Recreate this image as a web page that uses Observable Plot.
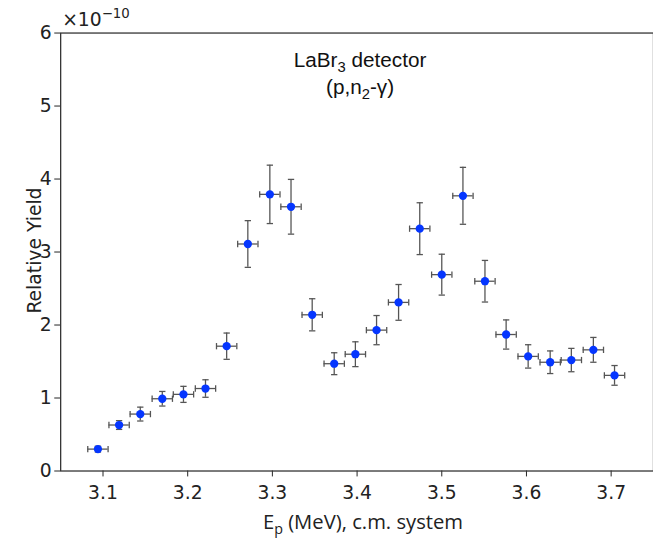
<!DOCTYPE html>
<html><head><meta charset="utf-8">
<script src="https://cdn.jsdelivr.net/npm/d3@7"></script>
<script src="https://cdn.jsdelivr.net/npm/@observablehq/plot@0.6"></script>
<style>
body{margin:0;background:#fff}
#wrap{width:653px;height:547px;overflow:hidden;position:relative}
</style>
</head><body><div id="wrap"></div>
<script>
// Beam energy (MeV, c.m. system)
const energy = [3.094,3.119,3.144,3.170,3.195,3.221,3.246,3.271,3.297,3.322,3.347,3.373,3.398,3.423,3.449,3.474,3.500,3.525,3.551,3.576,3.602,3.628,3.653,3.679,3.704];
// Relative yield in units of 1e-10
const yieldVals = [0.30,0.63,0.78,0.99,1.05,1.13,1.71,3.11,3.79,3.62,2.14,1.47,1.60,1.93,2.31,3.32,2.69,3.77,2.60,1.87,1.57,1.49,1.52,1.66,1.31];
const yieldErr = [0.04,0.06,0.095,0.10,0.11,0.12,0.18,0.32,0.40,0.375,0.22,0.15,0.17,0.20,0.245,0.355,0.28,0.39,0.285,0.20,0.16,0.155,0.16,0.17,0.135];
const energyErr = [0.012,0.012,0.012,0.012,0.012,0.012,0.012,0.012,0.012,0.012,0.012,0.012,0.012,0.012,0.012,0.012,0.012,0.012,0.012,0.012,0.012,0.012,0.012,0.012,0.012];
const xTicks = [3.1,3.2,3.3,3.4,3.5,3.6,3.7];
const yTicks = [0,1,2,3,4,5,6];
const yExponent = "−10";

const rows = energy.map((e,i)=>({e, y:yieldVals[i], dy:yieldErr[i], dx:energyErr[i]}));

const capH = {draw(ctx){ctx.moveTo(-3.2,0);ctx.lineTo(3.2,0);}};
const capV = {draw(ctx){ctx.moveTo(0,-3.2);ctx.lineTo(0,3.2);}};
const errColor = "#555";

const chart = Plot.plot({
  width: 662, height: 547,
  marginLeft: 61, marginRight: 0, marginTop: 33, marginBottom: 70,
  style: {fontFamily: "'DejaVu Sans'", fontSize: "19px", color: "#222", background: "#fff"},
  x: {domain: [3.05, 3.75], ticks: xTicks, tickFormat: d3.format(".1f"), tickSize: 6, tickPadding: 9, label: null},
  y: {domain: [0, 6], ticks: yTicks, tickFormat: d3.format("d"), tickSize: 6, tickPadding: 3, label: null},
  marks: [
    Plot.ruleX(rows, {x:"e", y1:d=>d.y-d.dy, y2:d=>d.y+d.dy, stroke:errColor, strokeWidth:1.3}),
    Plot.ruleY(rows, {y:"y", x1:d=>d.e-d.dx, x2:d=>d.e+d.dx, stroke:errColor, strokeWidth:1.3}),
    Plot.dot(rows, {x:"e", y:d=>d.y+d.dy, symbol:capH, fill:"none", stroke:errColor, strokeWidth:1.3}),
    Plot.dot(rows, {x:"e", y:d=>d.y-d.dy, symbol:capH, fill:"none", stroke:errColor, strokeWidth:1.3}),
    Plot.dot(rows, {x:d=>d.e+d.dx, y:"y", symbol:capV, fill:"none", stroke:errColor, strokeWidth:1.3}),
    Plot.dot(rows, {x:d=>d.e-d.dx, y:"y", symbol:capV, fill:"none", stroke:errColor, strokeWidth:1.3}),
    Plot.dot(rows, {x:"e", y:"y", r:4.2, fill:"#0536ff", stroke:"none"}),
    Plot.frame({stroke:"#333", strokeWidth:1.3})
  ]
});
document.getElementById("wrap").appendChild(chart);

const svg = d3.select(chart);
// exponent label
const ex = svg.append("text").attr("x", 63).attr("y", 26).attr("text-anchor","start")
  .style("font-family","'DejaVu Sans'").style("font-size","19px").attr("fill","#222");
ex.append("tspan").text("×10");
ex.append("tspan").attr("dy", -8).style("font-size","13.5px").text(yExponent);

// title
const t1 = svg.append("text").attr("x", 365).attr("y", 68).attr("text-anchor","middle")
  .style("font-family","'Liberation Sans'").style("font-size","21px").attr("fill","#111");
t1.append("tspan").text("LaBr");
t1.append("tspan").attr("dy", 5).style("font-size","15px").text("3");
t1.append("tspan").attr("dy", -5).text(" detector");
const t2 = svg.append("text").attr("x", 365).attr("y", 95).attr("text-anchor","middle")
  .style("font-family","'Liberation Sans'").style("font-size","21px").attr("fill","#111");
t2.append("tspan").text("(p,n");
t2.append("tspan").attr("dy", 5).style("font-size","15px").text("2");
t2.append("tspan").attr("dy", -5).text("-γ)");

// x label
const xl = svg.append("text").attr("x", 368).attr("y", 536).attr("text-anchor","middle")
  .style("font-family","'Open Sans'").style("font-size","20.5px").attr("fill","#222");
xl.append("tspan").text("E");
xl.append("tspan").attr("dy", 5).style("font-size","14.5px").text("p");
xl.append("tspan").attr("dy", -5).text(" (MeV), c.m. system");

// y label
svg.append("text").attr("transform","translate(42,254) rotate(-90)").attr("text-anchor","middle")
  .style("font-family","'DejaVu Sans'").style("font-size","19px").attr("fill","#222")
  .text("Relative Yield");
</script>
</body></html>
